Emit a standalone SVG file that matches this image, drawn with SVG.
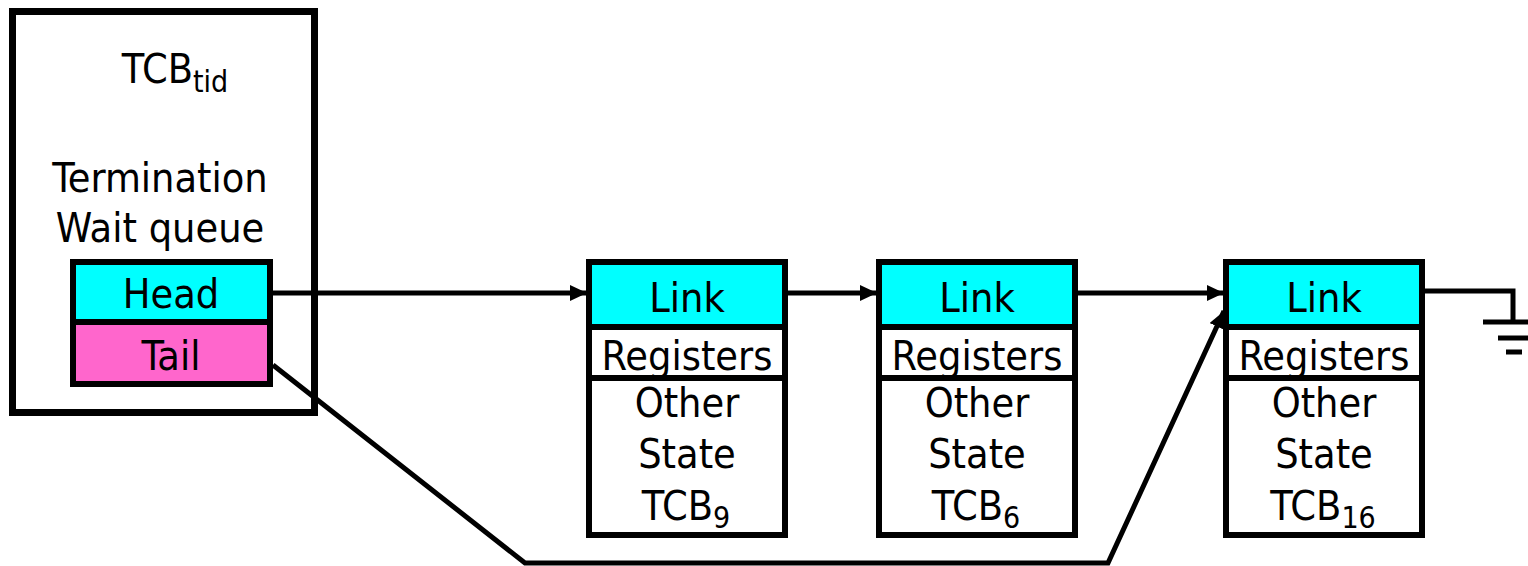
<svg xmlns="http://www.w3.org/2000/svg" width="1528" height="566" viewBox="0 0 1528 566">
  <style>
    text { font-family: "DejaVu Sans Condensed", "DejaVu Sans", sans-serif; font-stretch: condensed; font-size: 41px; fill: #000; text-anchor: middle; }
    .sub { font-size: 30px; }
    .box { stroke: #000; stroke-width: 6; }
    .outer { stroke-width: 7; }
    .plain { fill: #fff; }
    .link { fill: #00ffff; }
    .tail { fill: #ff66cc; }
    .wire { fill: none; stroke: #000; stroke-width: 5; stroke-linejoin: miter; }
    .ground { stroke: #000; stroke-width: 5; }
  </style>
  <defs>
    <marker id="arrow" markerUnits="userSpaceOnUse" markerWidth="18" markerHeight="16" refX="17" refY="8" orient="auto">
      <path d="M0,0 L17,8 L0,16 Z" fill="#000"/>
    </marker>
  </defs>

  <rect width="1528" height="566" fill="#fff"/>

  <!-- thread control block holding the wait queue -->
  <g id="tcb-tid">
    <rect class="box outer plain" x="12.5" y="11.5" width="302" height="401"/>
    <text x="175" y="83">TCB<tspan class="sub" dy="9">tid</tspan></text>
    <text x="160" y="192">Termination</text>
    <text x="160" y="242">Wait queue</text>
  </g>

  <g id="head">
    <rect class="box link" x="73" y="262" width="197" height="60"/>
    <text x="171" y="308">Head</text>
  </g>

  <g id="tail">
    <rect class="box tail" x="73" y="322" width="197" height="62"/>
    <text x="171" y="370">Tail</text>
  </g>

  <!-- queued TCBs -->
  <g id="tcb-9">
    <rect class="box plain" x="589" y="262" width="196" height="273"/>
    <rect class="box link" x="589" y="262" width="196" height="65"/>
    <rect class="box plain" x="589" y="327" width="196" height="51"/>
    <text x="687" y="312">Link</text>
    <text x="687" y="370">Registers</text>
    <text x="687" y="417">Other</text>
    <text x="687" y="468">State</text>
    <text x="686" y="520">TCB<tspan class="sub" dy="8">9</tspan></text>
  </g>

  <g id="tcb-6">
    <rect class="box plain" x="879" y="262" width="196" height="273"/>
    <rect class="box link" x="879" y="262" width="196" height="65"/>
    <rect class="box plain" x="879" y="327" width="196" height="51"/>
    <text x="977" y="312">Link</text>
    <text x="977" y="370">Registers</text>
    <text x="977" y="417">Other</text>
    <text x="977" y="468">State</text>
    <text x="976" y="520">TCB<tspan class="sub" dy="8">6</tspan></text>
  </g>

  <g id="tcb-16">
    <rect class="box plain" x="1226" y="262" width="196" height="273"/>
    <rect class="box link" x="1226" y="262" width="196" height="65"/>
    <rect class="box plain" x="1226" y="327" width="196" height="51"/>
    <text x="1324" y="312">Link</text>
    <text x="1324" y="370">Registers</text>
    <text x="1324" y="417">Other</text>
    <text x="1324" y="468">State</text>
    <text x="1323" y="520">TCB<tspan class="sub" dy="8">16</tspan></text>
  </g>

  <!-- null terminator -->
  <g id="null">
    <line class="ground" x1="1483" y1="322" x2="1528" y2="322"/>
    <line class="ground" x1="1498" y1="338" x2="1528" y2="338"/>
    <line class="ground" x1="1506" y1="352" x2="1522" y2="352" stroke-width="8"/>
  </g>

  <g id="connectors">
    <line class="wire" x1="273" y1="293" x2="587" y2="293" marker-end="url(#arrow)"/>
    <line class="wire" x1="788" y1="293" x2="877" y2="293" marker-end="url(#arrow)"/>
    <line class="wire" x1="1078" y1="293" x2="1224" y2="293" marker-end="url(#arrow)"/>
    <polyline class="wire" points="273,365 525,563 1108,563 1224,311" marker-end="url(#arrow)"/>
    <polyline class="wire" points="1425,291 1513,291 1513,322"/>
  </g>
</svg>
